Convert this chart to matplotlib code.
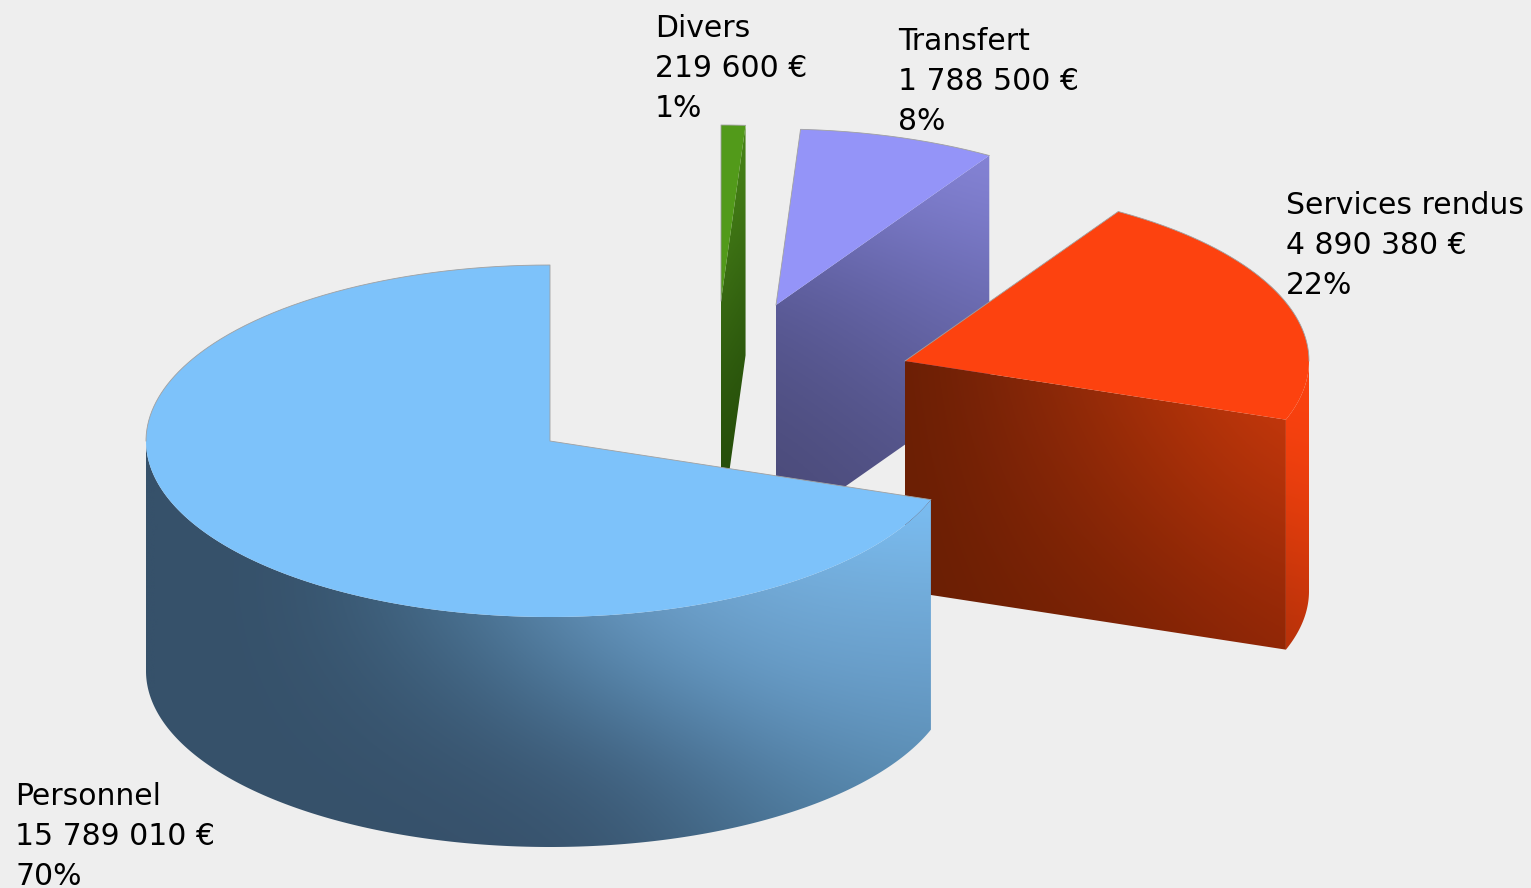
import numpy as np
import matplotlib
matplotlib.use("Agg")
import matplotlib.pyplot as plt
from matplotlib.colors import to_rgb
from matplotlib.patches import Polygon

# slices, first one starts at the top of the pie and they run counter-clockwise
names = ["Personnel", "Services rendus", "Transfert", "Divers"]
amounts = [15789010, 4890380, 1788500, 219600]
amount_labels = ["15 789 010 €", "4 890 380 €", "1 788 500 €", "219 600 €"]
pct_labels = ["70%", "22%", "8%", "1%"]

# layout, in pixels of the 1531x888 picture
centers = [(550, 441), (905, 361), (776, 305), (721, 301)]
label_xy = [(15, 805), (1286, 214), (898, 50), (655, 37)]
rx, ry, depth = 404, 176, 230
line_h = 40

top_colors = ["#7dc2fa", "#fd420f", "#9494f8", "#529a1a"]
edge_color = "#a0a0a0"

# shading of the side faces: colour samples on a coarse grid, smoothed when drawn
# each entry: x from, x to, y from, y to, rows of colours
personnel_wall = (146, 931, 480, 860, [
    ["#36516a", "#36516a", "#3b5c7a", "#6a9bc4", "#7dc2fa", "#7dc2fa"],
    ["#36516a", "#36516a", "#4a7595", "#6f9ec8", "#74acd9", "#74b0de"],
    ["#36516a", "#36516a", "#3f617e", "#5787ad", "#6a9fca", "#6a9fcc"],
    ["#36516a", "#36516a", "#38536d", "#3f607e", "#5582a8", "#5e92b8"],
    ["#36516a", "#36516a", "#36506a", "#38536d", "#46708f", "#4e7fa4"],
])
services_cut = (905, 1288, 361, 650, [
    ["#681e04", "#88280a", "#b03208", "#d43c0e"],
    ["#681e04", "#7c2306", "#962b07", "#b4320a"],
    ["#681e04", "#6f2004", "#7c2105", "#8f2606"],
])
services_wall = (1288, 1309, 415, 650, [
    ["#fd420f", "#fd420f"],
    ["#d83b0c", "#de3c0c"],
    ["#b0300a", "#b8300a"],
])
transfert_cut = (776, 989, 156, 500, [
    ["#7f7fd0", "#8a88dc"],
    ["#5a5a98", "#7474c0"],
    ["#4e4e80", "#6464a4"],
    ["#484874", "#55558c"],
])
divers_cut = (721, 746, 125, 470, [
    ["#4c8c18", "#4c8c18"],
    ["#3a6a14", "#2f5c0f"],
    ["#234a08", "#234a08"],
])


def ellipse_arc(center, a0, a1, n=240):
    t = np.radians(np.linspace(a0, a1, n))
    return np.column_stack([center[0] + rx * np.cos(t), center[1] - ry * np.sin(t)])


def shaded_face(ax, pts, grid, z):
    x0, x1, y0, y1, rows = grid
    img = np.array([[to_rgb(c) for c in row] for row in rows])
    hx = (x1 - x0) / (img.shape[1] - 1) / 2
    hy = (y1 - y0) / (img.shape[0] - 1) / 2
    im = ax.imshow(img, extent=(x0 - hx, x1 + hx, y1 + hy, y0 - hy), origin="upper",
                   interpolation="bicubic", aspect="auto", zorder=z)
    clip = Polygon(pts, closed=True, transform=ax.transData, fc="none", ec="none")
    ax.add_patch(clip)
    im.set_clip_path(clip)


fig = plt.figure(figsize=(15.31, 8.88), dpi=100, facecolor="#eeeeee")
ax = fig.add_axes([0, 0, 1, 1])
ax.set_axis_off()

# slice angles come from the amounts
shares = np.array(amounts) / sum(amounts)
starts = 90 + 360 * np.concatenate([[0], np.cumsum(shares)[:-1]])
ends = starts + 360 * shares

cut_faces = {1: services_cut, 2: transfert_cut, 3: divers_cut}
wall_faces = {0: personnel_wall, 1: services_wall}

# back slices first, Personnel goes over everything
z = 1
for i in [3, 2, 1, 0]:
    c = centers[i]
    a0, a1 = starts[i], ends[i]
    if i in cut_faces:
        p = ellipse_arc(c, a0, a0, 1)[0]
        face = [c, tuple(p), (p[0], p[1] + depth), (c[0], c[1] + depth)]
        shaded_face(ax, face, cut_faces[i], z)
        z += 1
    if i in wall_faces:
        # front part of the rim only, the lower half of the ellipse
        lo = max(a0, 180)
        hi = min(a1, 360)
        if a0 > 270:
            lo, hi = a0, 360
        arc = ellipse_arc(c, lo, hi)
        wall = np.vstack([arc, arc[::-1] + [0, depth]])
        shaded_face(ax, wall, wall_faces[i], z)
        z += 1
    top = np.vstack([[c], ellipse_arc(c, a0, a1)])
    ax.add_patch(Polygon(top, closed=True, fc=top_colors[i], ec="none", zorder=z))
    z += 1

    # thin outline only on the back side of the top face
    if i == 0:
        outline = np.vstack([ellipse_arc(c, a1, a1, 1), [c], ellipse_arc(c, a0, 180)])
    elif i == 1:
        outline = np.vstack([ellipse_arc(c, 360, a1), [c]])
    else:
        outline = np.vstack([ellipse_arc(c, a0, a1), [c]])
    ax.plot(outline[:, 0], outline[:, 1], color=edge_color, lw=0.6, zorder=z)
    z += 1

for i, name in enumerate(names):
    x, y = label_xy[i]
    for k, line in enumerate([name, amount_labels[i], pct_labels[i]]):
        ax.text(x, y + k * line_h, line, fontsize=21.5, family="DejaVu Sans", color="#000000",
                ha="left", va="baseline", zorder=z)

ax.set_xlim(0, 1531)
ax.set_ylim(888, 0)
fig.savefig("out.png", dpi=100, facecolor=fig.get_facecolor())
